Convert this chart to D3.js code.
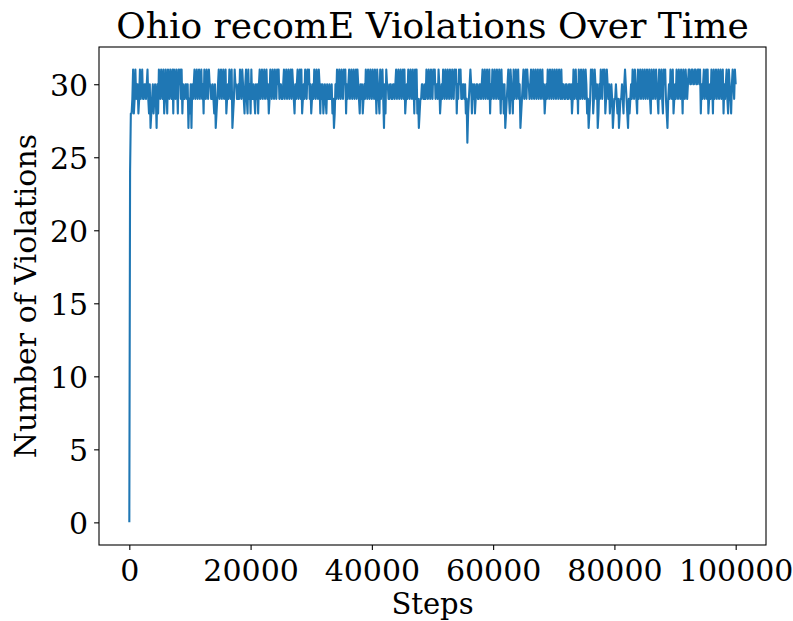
<!DOCTYPE html>
<html>
<head>
<meta charset="utf-8">
<script src="https://cdn.jsdelivr.net/npm/d3@7"></script>
<style>
  body { margin: 0; background: #fff; }
  text { font-family: "DejaVu Serif", serif; fill: #000; }
</style>
</head>
<body>
<svg id="chart" width="793" height="621"></svg>
<script>
// violations: one value every 250 steps...
const stepSize = 250;
const violations = [
  0,28,29,28,31,30,28,31,30,29,30,29,31,28,27,29,28,30,27,28,30,31,29,28,31,28,30,31,29,28,30,31,28,30,29,28,29,30,29,27,
  28,27,29,31,30,29,31,30,29,28,30,31,29,30,29,30,28,27,29,31,30,29,31,30,28,30,31,29,27,29,30,29,30,31,29,30,28,31,28,29,
  28,29,30,28,29,28,31,30,29,31,30,29,28,31,29,30,31,29,30,29,30,29,31,30,29,31,30,29,30,28,29,31,30,29,28,30,31,29,30,29,
  28,30,31,29,30,31,28,29,28,30,28,29,30,29,28,27,30,31,29,30,31,29,30,28,29,31,30,29,31,30,29,30,28,29,28,30,31,29,30,31,
  29,30,31,28,30,28,29,31,27,28,30,29,30,29,30,29,31,30,29,31,30,29,28,30,31,29,30,31,28,29,28,27,29,30,29,30,31,29,30,31,
  29,30,29,30,31,28,30,31,29,30,31,29,30,31,29,30,28,29,30,29,30,29,28,26,29,31,28,29,28,30,29,30,29,31,30,29,31,30,28,29,
  30,31,29,30,31,28,29,28,27,29,31,28,30,28,29,31,30,29,27,29,31,30,29,30,29,31,30,29,31,30,29,31,30,29,28,30,31,29,30,31,
  29,30,31,29,30,31,30,29,30,29,30,29,28,31,30,29,28,30,31,29,30,31,28,27,29,30,28,31,29,27,30,31,29,30,28,31,29,28,30,27,
  29,30,28,27,29,30,28,31,29,27,28,30,31,29,30,28,29,31,30,29,31,30,29,31,28,30,31,29,30,28,29,31,28,30,29,27,30,31,29,28,
  30,31,29,30,31,28,30,31,29,31,30,31,30,31,30,31,30,28,29,31,30,29,28,30,31,28,29,31,30,29,31,30,28,29,31,28,30,28,31,29,
  30
];
// ...and the values in between (at 125, 375, 625, ... steps)
const violationsMid = [
  24,28,31,29,29,30,29,29,31,29,30,30,29,30,28,30,29,29,30,31,29,30,31,29,30,31,29,30,31,31,29,30,31,31,31,30,29,30,30,29,
  30,30,30,29,31,30,29,31,30,31,29,30,31,30,29,29,30,28,30,29,31,30,29,31,29,29,30,31,28,31,30,29,29,30,31,29,30,29,31,30,
  31,29,29,30,30,30,29,31,30,29,31,30,29,30,31,29,30,31,31,30,29,30,29,31,30,29,31,31,29,30,30,29,31,31,29,29,30,31,31,30,
  29,29,30,31,29,30,30,30,29,29,30,29,29,30,29,28,29,30,31,29,30,31,31,30,30,29,31,30,29,31,31,29,30,30,29,29,30,31,29,30,
  31,29,30,31,29,31,30,29,30,31,30,29,30,29,30,30,29,31,30,29,31,31,29,29,30,31,29,30,31,31,29,28,29,30,29,29,30,31,29,30,
  31,31,30,29,30,29,29,30,31,29,30,31,29,30,31,31,30,31,31,29,30,30,29,28,30,30,30,30,29,30,29,30,30,29,31,30,29,31,30,31,
  29,30,31,29,30,31,30,30,28,30,29,31,29,31,30,29,31,30,28,30,29,31,31,30,30,29,31,30,29,31,30,29,31,30,29,29,30,31,29,30,
  31,29,30,31,29,29,30,29,30,29,30,30,29,29,31,30,31,29,30,31,29,30,29,28,31,31,29,30,30,28,29,30,31,31,29,30,30,29,29,28,
  29,29,29,28,29,29,30,30,28,29,29,29,30,31,29,31,30,29,31,30,29,31,30,29,31,29,30,31,29,31,30,29,31,31,28,29,29,30,31,29,
  29,30,31,29,30,31,29,30,30,31,30,31,30,31,30,31,31,30,30,29,31,31,29,29,30,31,30,29,31,30,29,31,30,30,29,31,29,30,30,31
];
const xTicks = [0, 20000, 40000, 60000, 80000, 100000];
const yTicks = [0, 5, 10, 15, 20, 25, 30];
const xLimits = [-5000, 105000];
const yLimits = [-1.55, 32.55];

// merge both lists into one step-ordered series
const series = [];
violations.forEach((v, i) => {
  series.push({ step: i * stepSize, value: v });
  if (i < violationsMid.length) {
    series.push({ step: i * stepSize + stepSize / 2, value: violationsMid[i] });
  }
});

const svg = d3.select("#chart");
const margin = { top: 47, right: 27, bottom: 76, left: 99 };
const width = 793, height = 621;

const x = d3.scaleLinear().domain(xLimits).range([margin.left, width - margin.right]);
const y = d3.scaleLinear().domain(yLimits).range([height - margin.bottom, margin.top]);

svg.append("rect").attr("width", width).attr("height", height).attr("fill", "#fff");

const line = d3.line()
  .x(d => x(d.step))
  .y(d => y(d.value));

svg.append("path")
  .datum(series)
  .attr("fill", "none")
  .attr("stroke", "#1f77b4")
  .attr("stroke-width", 2.1)
  .attr("stroke-linejoin", "round")
  .attr("stroke-linecap", "butt")
  .attr("d", line);

// axes
const xAxis = d3.axisBottom(x).tickValues(xTicks).tickSize(4.9).tickPadding(7).tickFormat(d3.format("d"));
const yAxis = d3.axisLeft(y).tickValues(yTicks).tickSize(4.9).tickPadding(6).tickFormat(d3.format("d"));

const gx = svg.append("g")
  .attr("transform", `translate(0, ${height - margin.bottom})`)
  .call(xAxis);
const gy = svg.append("g")
  .attr("transform", `translate(${margin.left}, 0)`)
  .call(yAxis);

[gx, gy].forEach(g => {
  g.select(".domain").remove();
  g.selectAll(".tick line").attr("stroke", "#000").attr("stroke-width", 1.1);
  g.selectAll(".tick text").style("font-size", "30px").attr("fill", "#000");
});
gx.selectAll(".tick text").attr("dy", null).attr("y", 36);
gy.selectAll(".tick text").attr("dy", "0.36em");

// frame
svg.append("rect")
  .attr("x", margin.left)
  .attr("y", margin.top)
  .attr("width", width - margin.left - margin.right)
  .attr("height", height - margin.top - margin.bottom)
  .attr("fill", "none")
  .attr("stroke", "#000")
  .attr("stroke-width", 1.1);

// labels
svg.append("text")
  .attr("text-anchor", "middle")
  .attr("x", (margin.left + width - margin.right) / 2)
  .attr("y", 614)
  .style("font-size", "29px")
  .text("Steps");

svg.append("text")
  .attr("text-anchor", "middle")
  .attr("transform", "rotate(-90)")
  .attr("x", -(margin.top + height - margin.bottom) / 2)
  .attr("y", 36)
  .style("font-size", "30px")
  .text("Number of Violations");

svg.append("text")
  .attr("text-anchor", "middle")
  .attr("x", (margin.left + width - margin.right) / 2)
  .attr("y", 38)
  .style("font-size", "36px")
  .text("Ohio recomE Violations Over Time");
</script>
</body>
</html>
